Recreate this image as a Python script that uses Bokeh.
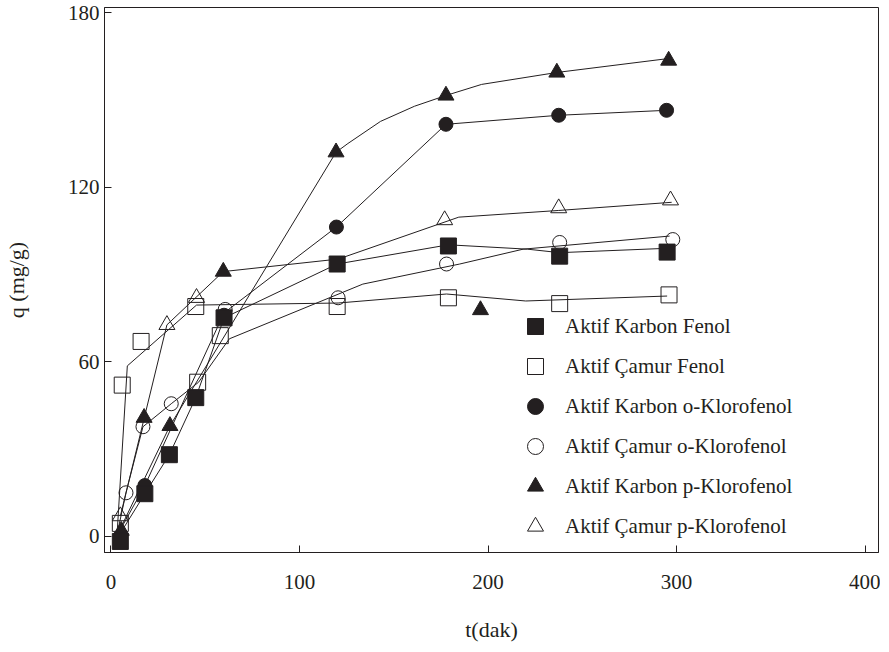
from bokeh.plotting import figure
from bokeh.models import FixedTicker, Legend, LegendItem, Range1d
from bokeh.embed import file_html
from bokeh.resources import INLINE

# ---- data (t in dak, q in mg/g) ----
# Aktif Karbon Fenol (filled squares)
akf_t = [5, 18, 31, 45, 60, 120, 179, 238, 295]
akf_q = [-1.7, 14.7, 28.1, 47.7, 75.1, 93.6, 99.8, 96.3, 97.7]
akf_line_t = [3, 18, 31, 45, 60, 120, 179, 221, 238, 295]
akf_line_q = [-1, 14.7, 28.1, 47.7, 75.1, 93.6, 100.2, 98.7, 97.5, 99.0]

# Aktif Çamur Fenol (open squares)
acf_t = [5, 6, 16, 45, 46, 58, 120, 179, 238, 296]
acf_q = [4.5, 52, 67, 79, 53, 69, 79, 82, 80, 83]
acf_line_t = [3, 8.7, 45.4, 120.5, 178, 220, 295]
acf_line_q = [-2, 58.6, 79.5, 80.2, 83.3, 80.9, 82.6]

# Aktif Karbon o-Klorofenol (filled circles)
ako_t = [5, 18, 60, 119.6, 177.7, 237.5, 294.7]
ako_q = [0, 17.5, 76.0, 106.3, 141.6, 144.7, 146.4]
ako_line_t = [3, 18, 60, 119.6, 177.7, 237.5, 294.7]
ako_line_q = [0, 17.5, 76.8, 106.3, 141.6, 144.7, 146.4]

# Aktif Çamur o-Klorofenol (open circles)
aco_t = [8, 17, 32, 60.6, 120.5, 178, 238, 298]
aco_q = [15, 37.7, 45.6, 78, 82, 93.6, 101, 102]
aco_line_t = [3, 8, 17, 32, 46.5, 62.8, 133.6, 185, 218.6, 296.3]
aco_line_q = [0, 15, 37.7, 45.6, 53, 67.9, 86.7, 93.6, 98.7, 103.2]

# Aktif Karbon p-Klorofenol (filled triangles)
akp_t = [5.5, 17.6, 31.3, 59.6, 119.4, 177.7, 196, 236.5, 295.8]
akp_q = [2, 40.8, 38, 91, 132, 151.5, 77.8, 159.4, 163.5]
akp_line_t = [3, 31.3, 119.4, 125.7, 143, 161, 177.7, 196.6, 236.5, 295.8]
akp_line_q = [0, 38, 132, 135, 142.6, 147.8, 151.5, 155.3, 159.4, 164.2]

# Aktif Çamur p-Klorofenol (open triangles)
acp_t = [5, 29.7, 45.4, 177, 237.5, 296.8]
acp_q = [7, 72.7, 82, 108.7, 112.8, 115.5]
acp_line_t = [5, 29.7, 59.6, 120.6, 184.5, 237.5, 297.4]
acp_line_q = [7, 72.7, 91, 95.3, 109.7, 112, 114.8]

x_ticks = [0, 100, 200, 300, 400]
y_ticks = [0, 60, 120, 180]

labels = ["Aktif Karbon Fenol", "Aktif Çamur Fenol", "Aktif Karbon o-Klorofenol",
          "Aktif Çamur o-Klorofenol", "Aktif Karbon p-Klorofenol", "Aktif Çamur p-Klorofenol"]

INK = "#231f20"
FONT = "Liberation Serif"

p = figure(width=880, height=644,
           x_range=Range1d(-3.4, 407.1), y_range=Range1d(-5.50, 181.72),
           output_backend="svg", toolbar_location=None,
           min_border_left=96, min_border_right=2, min_border_top=7, min_border_bottom=92,
           x_axis_label="t(dak)", y_axis_label="q (mg/g)")
p.background_fill_color = "white"
p.border_fill_color = "white"
p.grid.visible = False
p.outline_line_color = INK
p.outline_line_width = 1
p.outline_line_alpha = 1

p.xaxis.ticker = FixedTicker(ticks=x_ticks)
p.yaxis.ticker = FixedTicker(ticks=y_ticks)
for ax in (p.xaxis[0], p.yaxis[0]):
    ax.major_tick_in = 7
    ax.major_tick_out = 0
    ax.minor_tick_in = 0
    ax.minor_tick_out = 0
    ax.axis_line_color = INK
    ax.major_tick_line_color = INK
    ax.major_label_text_font = FONT
    ax.major_label_text_font_size = "21px"
    ax.major_label_text_color = INK
    ax.axis_label_text_font = FONT
    ax.axis_label_text_font_size = "22px"
    ax.axis_label_text_font_style = "normal"
    ax.axis_label_text_color = INK
p.xaxis.major_label_standoff = 22
p.xaxis.axis_label_standoff = 25
p.yaxis.major_label_standoff = 5
p.yaxis.axis_label_standoff = 36

# fitted lines
for lt, lq in [(akf_line_t, akf_line_q), (acf_line_t, acf_line_q), (ako_line_t, ako_line_q),
               (aco_line_t, aco_line_q), (akp_line_t, akp_line_q), (acp_line_t, acp_line_q)]:
    p.line(lt, lq, line_color=INK, line_width=1)

# markers
r_aco = p.scatter(aco_t, aco_q, marker="circle", size=14, fill_alpha=0, line_color=INK, line_width=1)
r_acp = p.scatter(acp_t, acp_q, marker="triangle", size=16, fill_alpha=0, line_color=INK, line_width=1)
r_acf = p.scatter(acf_t, acf_q, marker="square", size=16, fill_alpha=0, line_color=INK, line_width=1)
r_ako = p.scatter(ako_t, ako_q, marker="circle", size=14, fill_color=INK, line_color=INK)
r_akp = p.scatter(akp_t, akp_q, marker="triangle", size=16, fill_color=INK, line_color=INK)
r_akf = p.scatter(akf_t, akf_q, marker="square", size=16, fill_color=INK, line_color=INK)

legend = Legend(items=[LegendItem(label=labels[0], renderers=[r_akf]),
                       LegendItem(label=labels[1], renderers=[r_acf]),
                       LegendItem(label=labels[2], renderers=[r_ako]),
                       LegendItem(label=labels[3], renderers=[r_aco]),
                       LegendItem(label=labels[4], renderers=[r_akp]),
                       LegendItem(label=labels[5], renderers=[r_acp])],
                location=(411, 6), border_line_color=None, background_fill_alpha=0,
                padding=0, margin=0, spacing=0, glyph_width=40, glyph_height=40,
                label_height=40, label_standoff=10,
                label_text_font=FONT, label_text_font_size="21px", label_text_color=INK)
p.add_layout(legend)

open("out.html", "w").write(file_html(p, INLINE))
